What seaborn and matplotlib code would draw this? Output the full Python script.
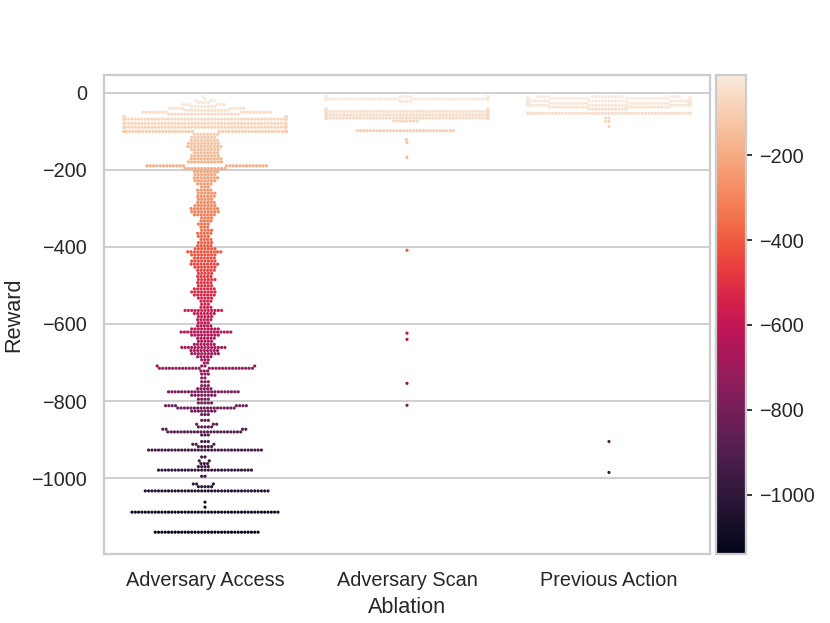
import numpy as np
import pandas as pd
import seaborn as sns
import matplotlib.pyplot as plt

# ---- data: reward level and how many episodes sit there ----
ablations = ["Adversary Access", "Adversary Scan", "Previous Action"]

access_rewards = [-11, -16, -21, -26, -31, -36, -41, -46, -51, -56, -63, -69, -80, -90, -101,
                  -108, -116, -124, -132, -140, -148, -156, -164, -172, -180, -190, -197,
                  -205, -213, -221, -229, -237, -245, -253, -261, -269, -277, -285, -293,
                  -301, -309, -317, -325, -333, -341, -349, -357, -365, -373, -381, -389,
                  -397, -405, -413, -421, -429, -437, -445, -453, -461, -469, -477, -485,
                  -493, -501, -509, -517, -525, -533, -541, -549, -557, -565, -573, -581,
                  -589, -597, -605, -613, -621, -629, -637, -645, -653, -661, -669, -677,
                  -685, -693, -701, -709, -715, -722, -730, -740, -750, -760, -768, -776,
                  -785, -795, -805, -812, -818, -826, -835, -850, -860, -867, -873, -880,
                  -888, -905, -912, -918, -927, -945, -955, -962, -970, -979, -995, -1015,
                  -1022, -1033, -1062, -1075, -1088, -1140]
access_counts = [1, 1, 3, 4, 6, 8, 10, 14, 18, 22, 48, 60, 60, 60, 60,
                 8, 8, 9, 10, 11, 9, 8, 9, 10, 11, 25, 13,
                 8, 7, 8, 7, 5, 3, 5, 6, 6, 5, 6, 7,
                 9, 9, 7, 4, 4, 4, 3, 4, 5, 4, 4, 5,
                 5, 7, 11, 8, 7, 8, 9, 7, 6, 5, 5, 6,
                 5, 5, 7, 8, 7, 5, 4, 3, 4, 12, 7, 5,
                 5, 4, 5, 9, 16, 9, 6, 5, 7, 14, 9, 9,
                 5, 3, 2, 4, 27, 3, 3, 2, 3, 3, 5, 22,
                 8, 4, 5, 8, 18, 8, 3, 3, 3, 5, 4, 23,
                 3, 3, 3, 5, 35, 2, 2, 3, 4, 29, 2, 3,
                 5, 38, 1, 1, 45, 32]

scan_rewards = [-11, -17, -23, -43, -49, -58, -66, -74, -99, -122, -130, -168,
                -409, -624, -640, -754, -811]
scan_counts = [20, 60, 4, 10, 60, 60, 60, 8, 30, 1, 1, 1,
               1, 1, 1, 1, 1]

prev_rewards = [-11, -15, -22, -28, -33, -38, -43, -54, -66, -75, -88, -905, -985]
prev_counts = [18, 60, 60, 40, 35, 25, 12, 60, 2, 2, 1, 1, 1]

df = pd.concat([
    pd.DataFrame({"Ablation": ablations[0], "Reward": np.repeat(access_rewards, access_counts)}),
    pd.DataFrame({"Ablation": ablations[1], "Reward": np.repeat(scan_rewards, scan_counts)}),
    pd.DataFrame({"Ablation": ablations[2], "Reward": np.repeat(prev_rewards, prev_counts)}),
], ignore_index=True)
df["Reward"] = df["Reward"].astype(float)

# ---- plot ----
sns.set_theme(style="whitegrid")
plt.rcParams["font.family"] = ["Liberation Sans", "DejaVu Sans"]

fig = plt.figure(figsize=(830 / 130, 623 / 130), dpi=130)
ax = fig.add_axes([0.1253, 0.1108, 0.7301, 0.7688])
cax = fig.add_axes([0.8627, 0.1108, 0.0361, 0.7688])

cmap = sns.color_palette("rocket", as_cmap=True)
norm = plt.Normalize(df["Reward"].min(), df["Reward"].max())

sns.swarmplot(data=df, x="Ablation", y="Reward", hue="Reward", palette="rocket",
              hue_norm=norm, order=ablations, size=1.75, linewidth=0,
              legend=False, ax=ax)

sm = plt.cm.ScalarMappable(cmap=cmap, norm=norm)
sm.set_array([])
cbar = fig.colorbar(sm, cax=cax)
cbar.outline.set_edgecolor(".8")
cbar.ax.tick_params(size=3.5, width=1, color=".15")

fig.savefig("out.png", dpi=130)
